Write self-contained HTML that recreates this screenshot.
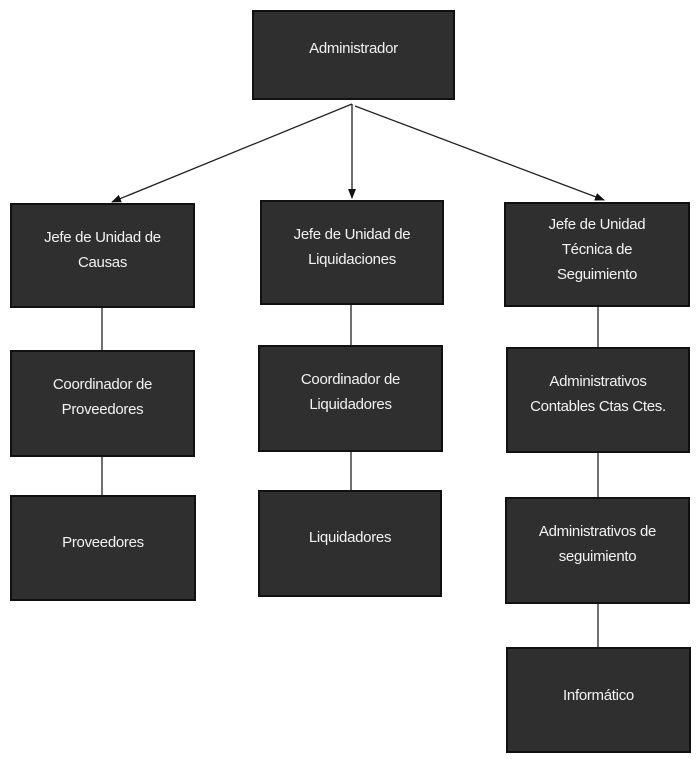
<!DOCTYPE html>
<html><head><meta charset="utf-8"><style>
body{margin:0;width:700px;height:759px;background:#fff;position:relative;overflow:hidden;font-family:"Liberation Sans",sans-serif}
.b{position:absolute;background:#2f2f2f;border:2px solid #111;box-sizing:border-box;color:#f2f2f2;font-size:15px;letter-spacing:-0.3px;line-height:25px;text-align:center;display:flex;flex-direction:column;align-items:center}
</style></head><body>
<svg width="700" height="759" style="position:absolute;left:0;top:0">
<defs><marker id="a" markerWidth="10" markerHeight="8" refX="9" refY="4" orient="auto" markerUnits="userSpaceOnUse"><path d="M0,0L10,4L0,8z" fill="#111"/></marker></defs>
<g stroke="#222" stroke-width="1.3" fill="none">
<line x1="352" y1="104" x2="112" y2="202" marker-end="url(#a)"/>
<line x1="352" y1="104" x2="352" y2="198" marker-end="url(#a)"/>
<line x1="355" y1="106" x2="604" y2="200" marker-end="url(#a)"/>
<line x1="102" y1="308" x2="102" y2="350"/>
<line x1="102" y1="457" x2="102" y2="495"/>
<line x1="351" y1="305" x2="351" y2="345"/>
<line x1="351" y1="452" x2="351" y2="490"/>
<line x1="598" y1="307" x2="598" y2="347"/>
<line x1="598" y1="453" x2="598" y2="497"/>
<line x1="598" y1="604" x2="598" y2="647"/>
</g></svg>
<div class="b" style="left:252px;top:10px;width:203px;height:90px;padding-top:24px">Administrador</div>
<div class="b" style="left:10px;top:203px;width:185px;height:105px;padding-top:20px">Jefe de Unidad de<br>Causas</div>
<div class="b" style="left:260px;top:200px;width:184px;height:105px;padding-top:20px">Jefe de Unidad de<br>Liquidaciones</div>
<div class="b" style="left:504px;top:202px;width:186px;height:105px;padding-top:8px">Jefe de Unidad<br>Técnica de<br>Seguimiento</div>
<div class="b" style="left:10px;top:350px;width:185px;height:107px;padding-top:20px">Coordinador de<br>Proveedores</div>
<div class="b" style="left:258px;top:345px;width:185px;height:107px;padding-top:20px">Coordinador de<br>Liquidadores</div>
<div class="b" style="left:506px;top:347px;width:184px;height:106px;padding-top:20px">Administrativos<br>Contables Ctas Ctes.</div>
<div class="b" style="left:10px;top:495px;width:186px;height:106px;padding-top:33px">Proveedores</div>
<div class="b" style="left:258px;top:490px;width:184px;height:107px;padding-top:33px">Liquidadores</div>
<div class="b" style="left:505px;top:497px;width:185px;height:107px;padding-top:20px">Administrativos de<br>seguimiento</div>
<div class="b" style="left:506px;top:647px;width:185px;height:106px;padding-top:34px">Informático</div>
</body></html>
